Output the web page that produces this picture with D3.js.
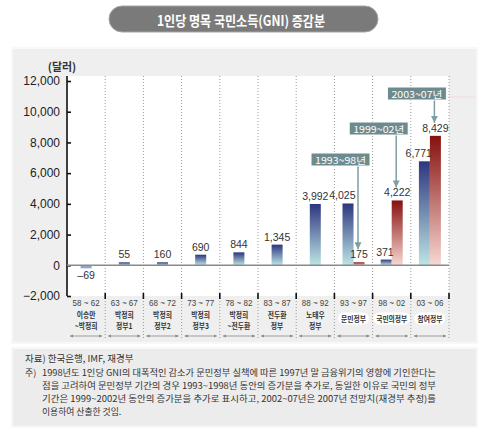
<!DOCTYPE html>
<html>
<head>
<meta charset="utf-8">
<script src="https://cdn.jsdelivr.net/npm/d3@7"></script>
<style>
  body { margin: 0; background: #fff; }
  svg text { font-family: "Liberation Sans", "Noto Sans CJK KR", sans-serif; }
  .kr { font-family: "Noto Sans CJK KR", sans-serif; }
</style>
</head>
<body>
<div id="chart"></div>
<script>
// data
const periods = ["58 ~ 62", "63 ~ 67", "68 ~ 72", "73 ~ 77", "78 ~ 82", "83 ~ 87", "88 ~ 92", "93 ~ 97", "98 ~ 02", "03 ~ 06"];
const govNames = [["이승만", "~박정희"], ["박정희", "정부1"], ["박정희", "정부2"], ["박정희", "정부3"], ["박정희", "~전두환"],
    ["전두환", "정부"], ["노태우", "정부"], ["문민정부"], ["국민의정부"], ["참여정부"]];
const baseGain = [-69, 55, 160, 690, 844, 1345, 3992, 4025, 371, 6771];
const extraGain = [null, null, null, null, null, null, null, 175, 4222, 8429];
const extraPeriods = ["1993~98년", "1999~02년", "2003~07년"];
const extraTarget = [7, 8, 9];
const yTicks = [-2000, 0, 2000, 4000, 6000, 8000, 10000, 12000];
const title = "1인당 명목 국민소득(GNI) 증감분";
const source = "자료) 한국은행, IMF, 재경부";
const noteLines = [
    "1998년도 1인당 GNI의 대폭적인 감소가 문민정부 실책에 따른 1997년 말 금융위기의 영향에 기인한다는",
    "점을 고려하여 문민정부 기간의 경우 1993~1998년 동안의 증가분을 추가로, 동일한 이유로 국민의 정부",
    "기간은 1999~2002년 동안의 증가분을 추가로 표시하고, 2002~07년은 2007년 전망치(재경부 추정)를",
    "이용하여 산출한 것임."
];

const width = 500, height = 434;
const plot = { left: 67, right: 449, top: 76, bottom: 296 };

var svg = d3.select("#chart").append("svg")
    .attr("width", width)
    .attr("height", height);

var defs = svg.append("defs");
function addGradient(id, top, bottom) {
    var g = defs.append("linearGradient").attr("id", id)
        .attr("x1", 0).attr("y1", 0).attr("x2", 0).attr("y2", 1);
    g.append("stop").attr("offset", "0%").attr("stop-color", top);
    g.append("stop").attr("offset", "100%").attr("stop-color", bottom);
}
addGradient("gradBlue", "#2d367e", "#bde5e5");
addGradient("gradRed", "#86100e", "#f8d8d3");
var arrowHead = defs.append("marker").attr("id", "annoHead")
    .attr("viewBox", "0 0 10 10").attr("refX", 5).attr("refY", 10)
    .attr("markerWidth", 7).attr("markerHeight", 7).attr("markerUnits", "userSpaceOnUse")
    .attr("orient", "0");
arrowHead.append("path").attr("d", "M0,0 L10,0 L5,10 Z").attr("fill", "#7f9ea2");
var smallHead = defs.append("marker").attr("id", "spanHead")
    .attr("viewBox", "0 0 10 10").attr("refX", 10).attr("refY", 5)
    .attr("markerWidth", 4).attr("markerHeight", 4)
    .attr("orient", "auto-start-reverse");
smallHead.append("path").attr("d", "M0,0 L10,5 L0,10 Z").attr("fill", "#888");

// title pill
svg.append("rect")
    .attr("x", 109).attr("y", 6).attr("width", 269).attr("height", 26).attr("rx", 13)
    .attr("fill", "#7a7a7a").attr("stroke", "#a5a5a5").attr("stroke-width", 1);
svg.append("text")
    .attr("class", "kr")
    .attr("x", 241).attr("y", 19.5)
    .attr("text-anchor", "middle").attr("dominant-baseline", "central")
    .attr("fill", "#fff").style("font-size", "14px").style("font-weight", "bold")
    .attr("textLength", 168).attr("lengthAdjust", "spacingAndGlyphs")
    .text(title);

// panels
svg.append("rect")
    .attr("x", 12).attr("y", 48).attr("width", 465).attr("height", 295)
    .attr("fill", "#efefef").attr("stroke", "#f8f8f8").attr("stroke-width", 2);
svg.append("rect")
    .attr("x", 12).attr("y", 348).attr("width", 465).attr("height", 79)
    .attr("fill", "#ececec").attr("stroke", "#f8f8f8").attr("stroke-width", 2);
svg.append("rect")
    .attr("x", plot.left).attr("y", plot.top)
    .attr("width", plot.right - plot.left).attr("height", plot.bottom - plot.top)
    .attr("fill", "#fff");

var x = d3.scaleBand()
    .domain(d3.range(periods.length))
    .range([plot.left, plot.right]);
var y = d3.scaleLinear()
    .domain([-2000, 12000])
    .range([plot.bottom, 81]);
var bw = x.bandwidth();
var barW = 11;

// dotted separators
svg.append("g").selectAll("line")
    .data(d3.range(periods.length))
    .enter().append("line")
    .attr("x1", d => x(d) + bw).attr("x2", d => x(d) + bw)
    .attr("y1", plot.top).attr("y2", 338)
    .attr("stroke", "#9a9a9a").attr("stroke-width", 1)
    .attr("stroke-dasharray", "1,2");

// y axis
var yAxis = svg.append("g")
    .attr("transform", "translate(" + plot.left + ",0)")
    .call(d3.axisLeft(y).tickValues(yTicks).tickFormat(d3.format(","))
        .tickSizeInner(-4).tickSizeOuter(0).tickPadding(7));
yAxis.select(".domain").attr("stroke", "#111").attr("stroke-width", 1.6)
    .attr("d", "M0," + plot.top + "V" + plot.bottom);
yAxis.selectAll(".tick line").attr("stroke", "#111").attr("stroke-width", 1.6);
yAxis.selectAll(".tick text").style("font-size", "12px").attr("fill", "#222");

svg.append("text")
    .attr("class", "kr")
    .attr("x", 62).attr("y", 66)
    .attr("text-anchor", "middle").attr("dominant-baseline", "central")
    .style("font-size", "11px").style("font-weight", "bold").attr("fill", "#333")
    .text("(달러)");

// bottom ticks
svg.append("g").selectAll("line")
    .data(d3.range(periods.length))
    .enter().append("line")
    .attr("x1", d => x(d) + bw).attr("x2", d => x(d) + bw)
    .attr("y1", plot.bottom - 3).attr("y2", plot.bottom + 3)
    .attr("stroke", "#111").attr("stroke-width", 1.6);

// bars
function barTop(v) { return v >= 0 ? Math.min(y(v), y(0) - 3) : y(0); }
function barHeight(v) { return Math.max(Math.abs(y(v) - y(0)), 3); }
function blueX(i) {
    var c = x(i) + bw / 2;
    return extraGain[i] == null ? c - barW / 2 : c - barW;
}
function redX(i) { return x(i) + bw / 2; }

svg.append("g").selectAll("rect")
    .data(baseGain)
    .enter().append("rect")
    .attr("x", (d, i) => blueX(i))
    .attr("y", d => barTop(d))
    .attr("width", barW)
    .attr("height", d => barHeight(d))
    .attr("fill", d => d < 0 ? "#8fa6c6" : "url(#gradBlue)");

var extraIdx = d3.range(extraGain.length).filter(i => extraGain[i] != null);
svg.append("g").selectAll("rect")
    .data(extraIdx)
    .enter().append("rect")
    .attr("x", i => redX(i))
    .attr("y", i => barTop(extraGain[i]))
    .attr("width", barW)
    .attr("height", i => barHeight(extraGain[i]))
    .attr("fill", "url(#gradRed)");

// zero line
svg.append("line")
    .attr("x1", plot.left).attr("x2", plot.right)
    .attr("y1", y(0)).attr("y2", y(0))
    .attr("stroke", "#8a8a8a").attr("stroke-width", 1.5);

// value labels
var fmt = d3.format(",");
svg.append("g").selectAll("text")
    .data(baseGain)
    .enter().append("text")
    .attr("x", (d, i) => extraGain[i] == null ? blueX(i) + barW / 2 : blueX(i) + barW + 2)
    .attr("y", d => d < 0 ? y(0) + barHeight(d) + 11 : barTop(d) - 4)
    .attr("text-anchor", (d, i) => extraGain[i] == null ? "middle" : "end")
    .style("font-size", "10.5px").attr("fill", "#333")
    .text(d => fmt(d).replace("−", "–"));

svg.append("g").selectAll("text")
    .data(extraIdx)
    .enter().append("text")
    .attr("x", i => redX(i) + barW / 2)
    .attr("y", i => barTop(extraGain[i]) - 4)
    .attr("text-anchor", "middle")
    .style("font-size", "10.5px").attr("fill", "#333")
    .text(i => fmt(extraGain[i]));

// annotation boxes with arrows
var boxTop = [153, 122, 87];
var boxW = 59, boxH = 13;
extraPeriods.forEach(function (label, k) {
    var i = extraTarget[k];
    var ax = redX(i) + barW / 2 - 1;
    var bx = ax + 12 - boxW;
    var tip = barTop(extraGain[i]) - 13;
    if (k == 2) {
        svg.append("line")
            .attr("x1", bx + boxW).attr("x2", 476)
            .attr("y1", boxTop[k] + 10).attr("y2", boxTop[k] + 10)
            .attr("stroke", "#efc9c9").attr("stroke-width", 1)
            .attr("stroke-dasharray", "1,1");
    }
    svg.append("line")
        .attr("x1", ax).attr("x2", ax)
        .attr("y1", boxTop[k] + boxH).attr("y2", tip)
        .attr("stroke", "#7f9ea2").attr("stroke-width", 1.5)
        .attr("marker-end", "url(#annoHead)");
    svg.append("rect")
        .attr("x", bx).attr("y", boxTop[k])
        .attr("width", boxW).attr("height", boxH)
        .attr("fill", "#6d8b8f").attr("stroke", "#fff").attr("stroke-width", 1);
    svg.append("text")
        .attr("class", "kr")
        .attr("x", bx + boxW / 2).attr("y", boxTop[k] + boxH / 2 + 0.5)
        .attr("text-anchor", "middle").attr("dominant-baseline", "central")
        .attr("fill", "#fff").style("font-size", "9.5px")
        .attr("textLength", boxW - 8).attr("lengthAdjust", "spacingAndGlyphs")
        .text(label);
});

// category labels
var cat = svg.append("g").selectAll("g")
    .data(d3.range(periods.length))
    .enter().append("g")
    .attr("transform", d => "translate(" + (x(d) + bw / 2) + ",0)");

cat.append("text")
    .attr("y", 303).attr("text-anchor", "middle").attr("dominant-baseline", "central")
    .style("font-size", "9px").attr("fill", "#444")
    .attr("textLength", 27).attr("lengthAdjust", "spacingAndGlyphs")
    .text(d => periods[d]);

function squeeze(t, ratio, maxW) {
    var w = t.node().getComputedTextLength();
    var target = Math.min(w * ratio, maxW);
    t.attr("textLength", target).attr("lengthAdjust", "spacingAndGlyphs");
    return target;
}

cat.each(function (d) {
    var g = d3.select(this);
    var names = govNames[d];
    if (names.length == 2) {
        names.forEach(function (n, j) {
            var t = g.append("text")
                .attr("class", "kr")
                .attr("y", 314 + j * 11).attr("text-anchor", "middle").attr("dominant-baseline", "central")
                .style("font-size", "8px").style("font-weight", "bold").attr("fill", "#333")
                .text(n);
            squeeze(t, 0.85, 30);
        });
    } else {
        var t = g.append("text")
            .attr("class", "kr")
            .attr("y", 318.5).attr("text-anchor", "middle").attr("dominant-baseline", "central")
            .style("font-size", "8px").style("font-weight", "bold").attr("fill", "#333")
            .text(names[0]);
        var w = squeeze(t, 0.85, 31);
        g.insert("rect", "text")
            .attr("x", -w / 2 - 3).attr("y", 312.5)
            .attr("width", w + 6).attr("height", 12).attr("rx", 6)
            .attr("fill", "#fff");
    }
});

// span arrows
svg.append("g").selectAll("line")
    .data(d3.range(periods.length))
    .enter().append("line")
    .attr("x1", d => x(d) + 3).attr("x2", d => x(d) + bw - 3)
    .attr("y1", 336).attr("y2", 336)
    .attr("stroke", "#888").attr("stroke-width", 0.8)
    .attr("marker-start", "url(#spanHead)")
    .attr("marker-end", "url(#spanHead)");

// notes
svg.append("text")
    .attr("class", "kr")
    .attr("x", 25).attr("y", 358).attr("dominant-baseline", "central")
    .style("font-size", "9.5px").attr("fill", "#333")
    .text(source);
svg.append("text")
    .attr("class", "kr")
    .attr("x", 25).attr("y", 372).attr("dominant-baseline", "central")
    .style("font-size", "9px").attr("fill", "#333")
    .text("주)");
noteLines.forEach(function (line, j) {
    var t = svg.append("text")
        .attr("class", "kr")
        .attr("x", 42).attr("y", 372 + j * 13).attr("dominant-baseline", "central")
        .style("font-size", "8.8px").attr("fill", "#333")
        .text(line);
    if (j < 3) t.attr("textLength", 394).attr("lengthAdjust", "spacingAndGlyphs");
});
</script>
</body>
</html>
